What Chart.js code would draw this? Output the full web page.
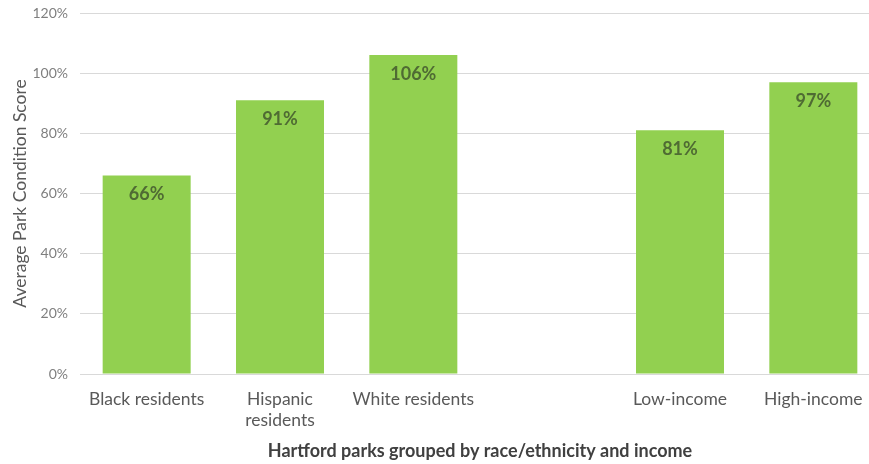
<html>
	<head>
		<meta name="viewport" content="width=device-width, initial-scale=1">
		<style>
			body { margin: 0; overflow: hidden; background: #fff; }
		</style>
	</head>
	<body>
		<canvas id="myChart" width="880" height="464"></canvas>
		<script src="https://cdn.jsdelivr.net/npm/chart.js@4"></script>
		<script>
			// categories (the blank one is the gap between the two groups)
			const labels = ['Black residents', ['Hispanic', 'residents'], 'White residents', '', 'Low-income', 'High-income'];
			const scores = [66, 91, 106, null, 81, 97];
			const yTicks = [0, 20, 40, 60, 80, 100, 120];

			const font = "Lato, 'Open Sans', sans-serif";

			// draws the % value inside the top of each bar
			const valueLabels = {
				id: 'valueLabels',
				afterDatasetsDraw(chart) {
					const ctx = chart.ctx;
					const meta = chart.getDatasetMeta(0);
					ctx.save();
					ctx.font = 'bold 18px ' + font;
					ctx.fillStyle = '#4F6B33';
					ctx.textAlign = 'center';
					ctx.textBaseline = 'middle';
					meta.data.forEach((bar, i) => {
						if (scores[i] == null) return;
						ctx.fillText(scores[i] + '%', bar.x, bar.y + 19);
					});
					ctx.restore();
				}
			};

			new Chart(document.getElementById('myChart'), {
				type: 'bar',
				data: {
					labels: labels,
					datasets: [{
						data: scores,
						backgroundColor: '#92D050',
						barPercentage: 0.66,
						categoryPercentage: 1
					}]
				},
				options: {
					responsive: false,
					animation: false,
					layout: { padding: { top: 13, left: 0, right: 0, bottom: 0 } },
					plugins: {
						legend: { display: false },
						tooltip: { enabled: false }
					},
					scales: {
						y: {
							min: 0,
							max: 120,
							afterBuildTicks: (s) => { s.ticks = yTicks.map(v => ({ value: v })); },
							afterFit: (s) => { s.width = 80; s.paddingTop = 0; s.paddingBottom = 0; },
							border: { display: false },
							grid: { color: '#D9D9D9', drawTicks: false },
							ticks: {
								padding: 12,
								color: '#7F7F7F',
								font: { family: font, size: 14 },
								callback: v => v + '%'
							},
							title: {
								display: true,
								text: 'Average Park Condition Score',
								color: '#595959',
								font: { family: font, size: 17.5 },
								padding: { top: 10, bottom: 0 }
							}
						},
						x: {
							afterFit: (s) => { s.height = 90; },
							border: { display: false },
							grid: { display: false },
							ticks: {
								padding: 7,
								color: '#595959',
								font: { family: font, size: 17.5 },
								maxRotation: 0,
								autoSkip: false
							},
							title: {
								display: true,
								text: 'Hartford parks grouped by race/ethnicity and income',
								color: '#404040',
								font: { family: font, size: 18, weight: 'bold' },
								padding: { top: 4, bottom: 2 }
							}
						}
					}
				},
				plugins: [valueLabels]
			});
		</script>
	</body>
</html>
